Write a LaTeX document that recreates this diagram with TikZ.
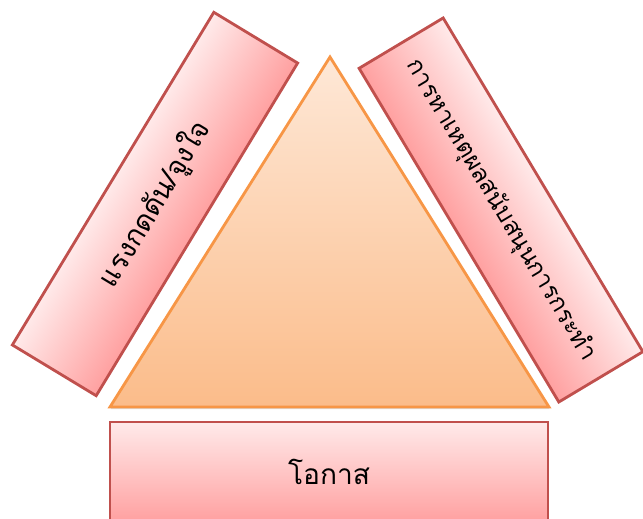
\documentclass[tikz,border=0pt]{standalone}
\usepackage{fontspec}
\usetikzlibrary{shadows}
\newfontfamily\thaifont[Script=Thai]{Loma}
\definecolor{boxedge}{RGB}{192,80,77}
\definecolor{boxlight}{RGB}{255,234,234}
\definecolor{boxdark}{RGB}{255,160,160}
\definecolor{triedge}{RGB}{247,150,70}
\definecolor{trilight}{RGB}{254,232,215}
\definecolor{tridark}{RGB}{251,188,138}

\begin{document}
\begin{tikzpicture}[x=0.02cm,y=0.02cm,line width=1.6pt,
    side/.style={rectangle,draw=boxedge,top color=boxlight,bottom color=boxdark,
      minimum width=7.78cm,minimum height=1.96cm,inner sep=0pt,
      font=\thaifont\fontsize{16}{18}\selectfont}]
    \useasboundingbox (0,0) rectangle (643,518);
    \clip (0,0) rectangle (643,518);
    % triangle
    \draw [draw=triedge,top color=trilight,bottom color=tridark,
        drop shadow={shadow xshift=0.4pt,shadow yshift=-1.2pt,opacity=0.25}]
        (330,461) coordinate (apex) -- (549,111) coordinate (baseR) -- (110,111) coordinate (baseL) -- cycle;
    % the three sides
    \begin{scope}[transform canvas={rotate around={58.8:(155,314)}}]
        \node (pressure) at (155,314) [side] {แรงกดดัน/จูงใจ};
    \end{scope}
    \begin{scope}[transform canvas={rotate around={-59.1:(501,308)}}]
        \node (reason) at (501,308) [side,font=\thaifont\fontsize{13.8}{16}\selectfont]
            {การหาเหตุผลสนับสนุนการกระทำ};
    \end{scope}
    \node (chance) at (329,46) [side,minimum width=8.76cm,minimum height=2cm] {โอกาส};
\end{tikzpicture}
\end{document}
